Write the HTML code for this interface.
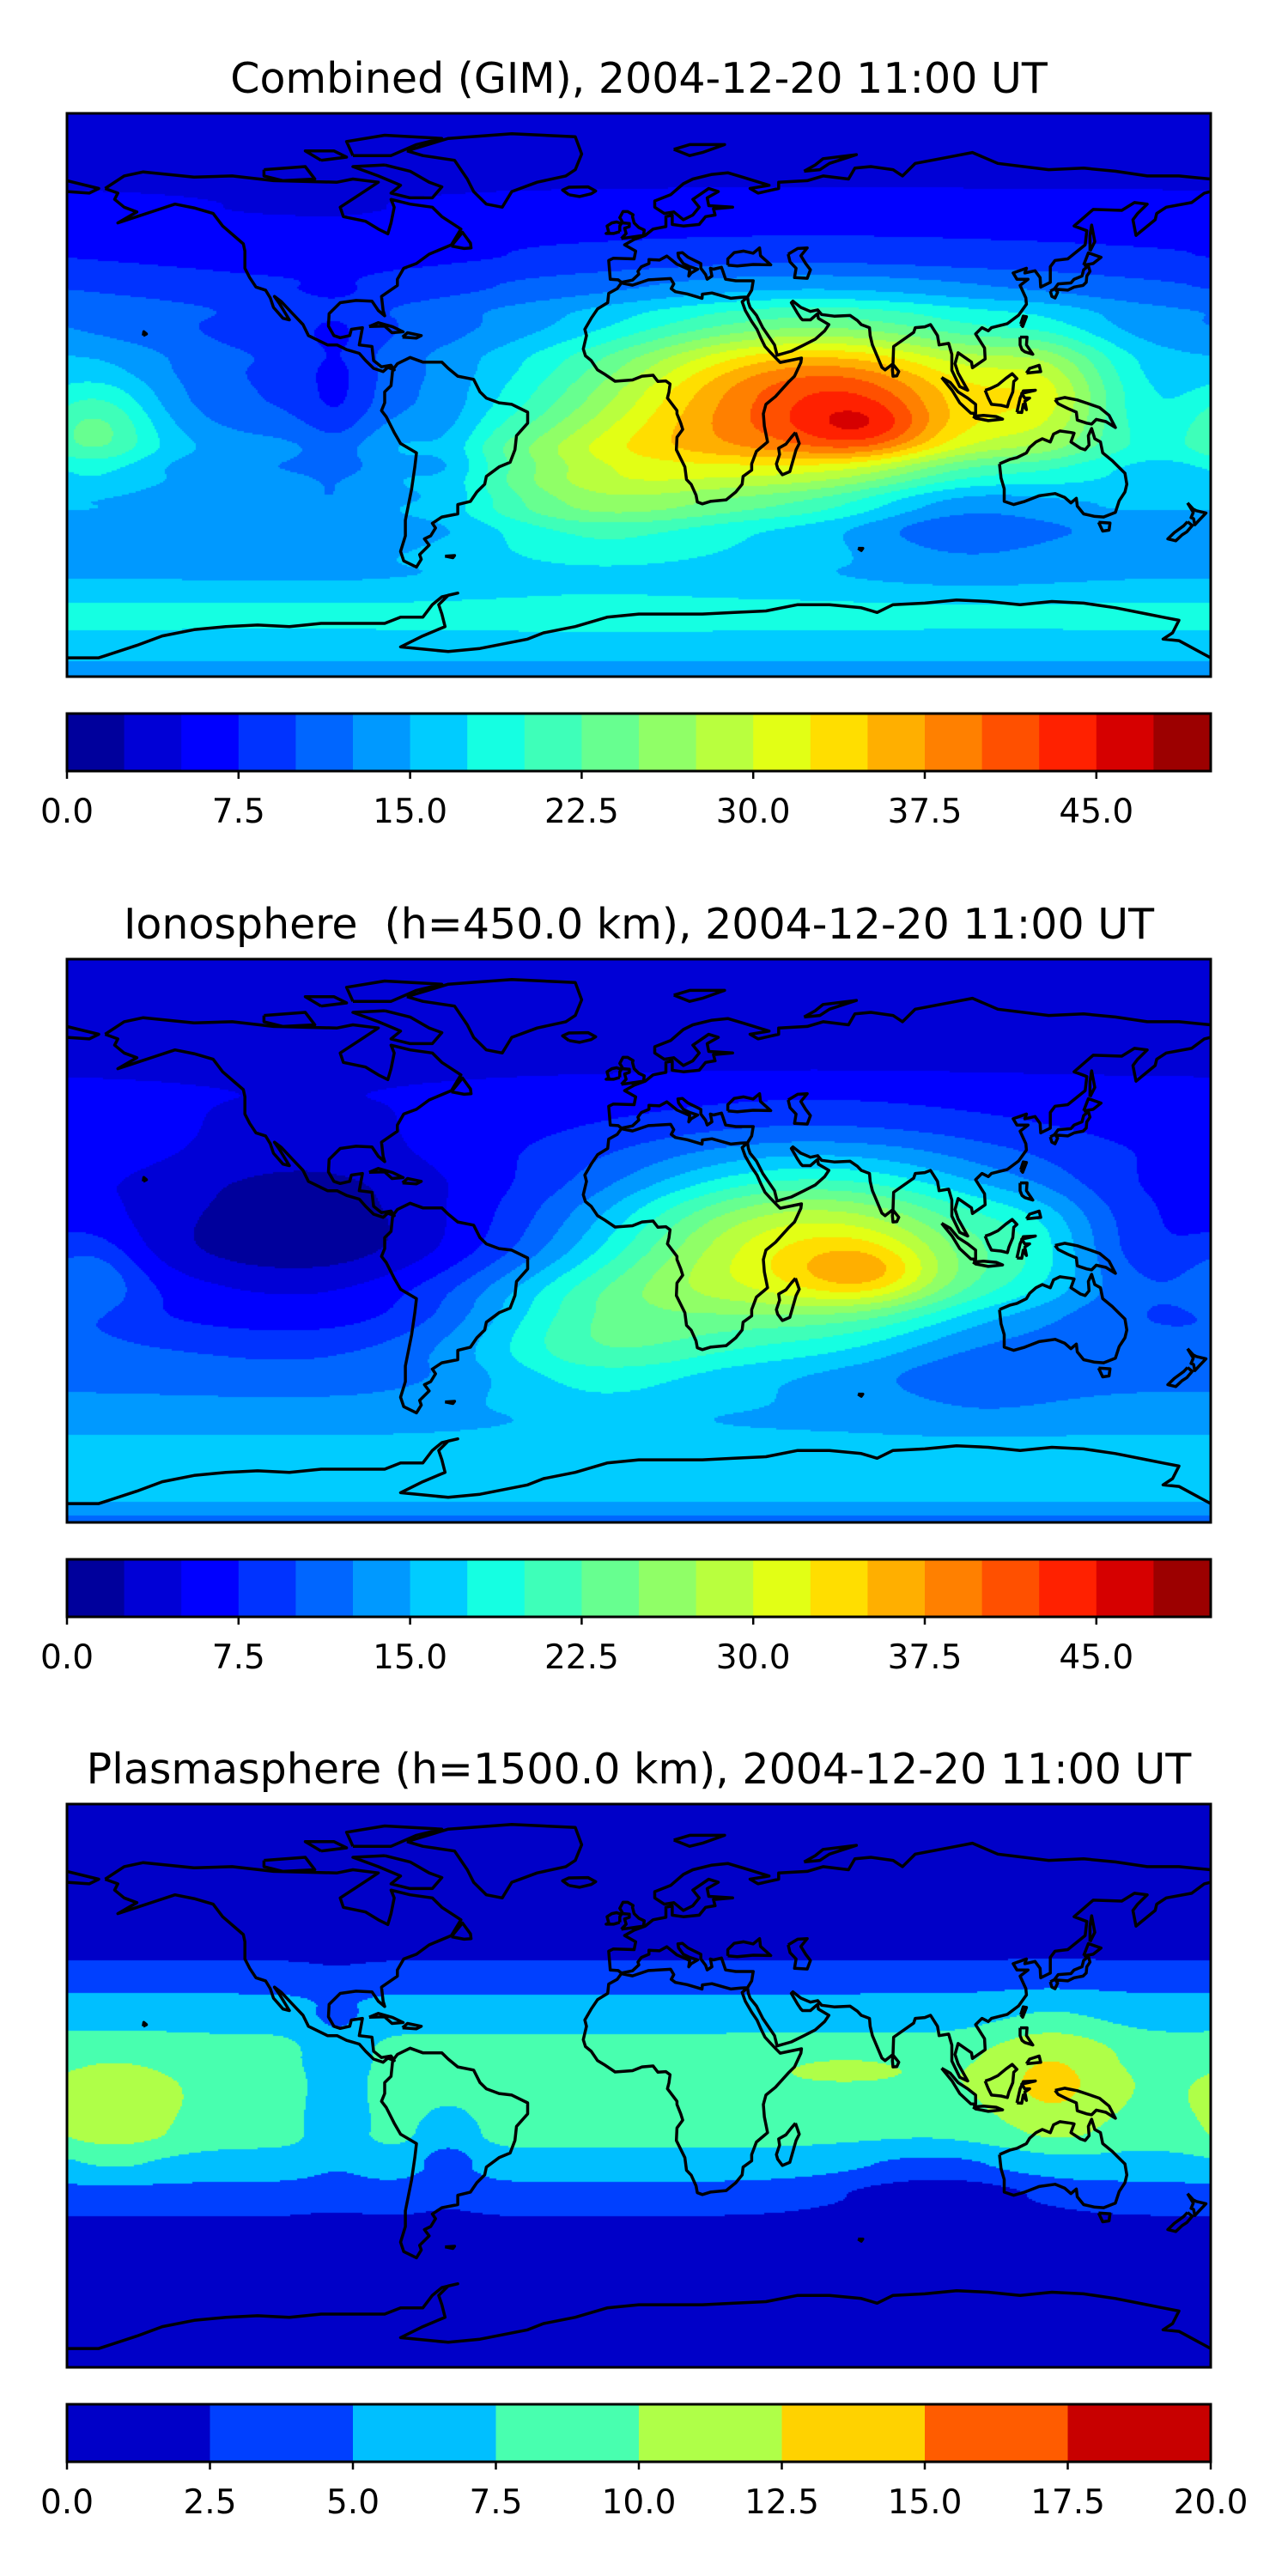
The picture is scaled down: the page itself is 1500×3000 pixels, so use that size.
<!DOCTYPE html>
<html><head><meta charset="utf-8"><style>
html,body{margin:0;padding:0;background:#fff;}
#root{position:relative;width:1500px;height:3000px;overflow:hidden;background:#fff;font-family:"DejaVu Sans","Liberation Sans",sans-serif;}
canvas{position:absolute;}
svg{position:absolute;left:0;top:0;overflow:visible;}
</style></head><body>
<div id="root"></div>
<script>
// ---------- data ----------
const ionoBaseLat = [90, 80, 60, 45, 30, 15, 0, -20, -40, -55, -70, -80, -90];
const ionoBaseVal = [3, 3, 4, 6, 6.5, 5.5, 5, 8, 11, 13.5, 17, 16, 12];
const ionoBlobLon = [55, 72, -15, 125, -105, 105, -172];
const ionoBlobLat = [-3, -10, -30, 0, 5, -40, -10];
const ionoBlobAmp = [27, 6, 9, 4, -4.5, -3, 5];
const ionoBlobSx = [50, 15, 30, 15, 35, 25, 12];
const ionoBlobSy = [20, 7, 15, 12, 25, 12, 10];

const plasBaseLat = [90, 80, 45, 35, 25, 10, 0, -15, -25, -35, -45, -60, -90];
const plasBaseVal = [1, 1, 1.5, 3.5, 6, 8.5, 9, 8.5, 6.5, 4, 2, 1, 1];
const plasBlobLon = [-165, 130, 65, -95, -60, 95];
const plasBlobLat = [-8, 2, 6, 0, -20, -35];
const plasBlobAmp = [3.2, 4.2, 1.6, -3, -2.5, -3];
const plasBlobSx = [15, 15, 25, 8, 8, 25];
const plasBlobSy = [12, 15, 5, 20, 12, 12];

const levels1 = [0,2.5,5,7.5,10,12.5,15,17.5,20,22.5,25,27.5,30,32.5,35,37.5,40,42.5,45,47.5,50];
const levels3 = [0,2.5,5,7.5,10,12.5,15,17.5,20];
const ticks1 = ["0.0","7.5","15.0","22.5","30.0","37.5","45.0"];
const tickVals1 = [0,7.5,15,22.5,30,37.5,45];
const ticks3 = ["0.0","2.5","5.0","7.5","10.0","12.5","15.0","17.5","20.0"];
const tickVals3 = [0,2.5,5,7.5,10,12.5,15,17.5,20];
const titles = ["Combined (GIM), 2004-12-20 11:00 UT","Ionosphere\u00a0\u00a0(h=450.0 km), 2004-12-20 11:00 UT","Plasmasphere (h=1500.0 km), 2004-12-20 11:00 UT"];

const coasts = [
[[180,65],[178,64.5],[174,61.5],[166,60],[163,58],[162.5,56],[156.5,51],[155.5,56],[157,58],[160,61],[156,61.5],[152,59],[143,59.3],[137,54],[141,52.5],[140.5,48],[135,43.5],[131,43],[129.5,41],[129.5,36],[126.5,34.5],[126.3,37.5],[124.7,39.7],[121.5,39],[122,40.5],[117.8,39],[119,37],[122.5,37],[120,35],[121.8,31],[122,29],[119.5,25.5],[116,22.8],[111,21.5],[110,20.5],[108,21.5],[106,19.5],[108.8,15],[109,11.5],[105,8.7],[104.7,10.5],[100.5,13.5],[99.5,10],[100.5,7],[103.5,1.5],[101,2.7],[98.5,7.9],[98.5,13],[97.5,16.5],[94.5,16],[94,19],[91.8,22.5],[90,21.8],[87,21.5],[86.5,20],[80.2,15.5],[80,10],[77.5,8],[76.5,8.8],[73.5,16],[72.8,19],[72.6,21.5],[70,22.5],[68.8,23.8],[66.5,25.4],[61.5,25.2],[57.5,25.7],[56.3,27.2],[54,26.7],[51,28],[48.5,30],[48,29.5],[50,26],[51,24.5],[51.5,24],[54,24],[56.3,26],[56.5,24.5],[59.8,22.5],[58.5,20.5],[55.5,17.8],[52,16],[48,14],[43.5,12.7],[42.7,16],[39,21.5],[37,25.5],[35,28],[34.5,29.5],[34.2,31.3],[35.5,33.5],[36,36.5],[30.5,36.5],[27.3,37],[26.3,40],[26,40.8],[23.5,40.2],[22.5,40.5],[23,38],[21.5,37],[21,38.5],[19.5,40.5],[19.5,42],[15.5,44],[13.7,45.5],[12.3,45.3],[12.5,44],[14,42],[16,41],[18.5,40.2],[16.5,39],[15.7,38],[16,40],[14.5,40.7],[12,41.8],[10.5,43],[8.8,44.4],[6.5,43.1],[3.2,43.3],[3.2,42],[0.8,41],[-0.3,39.5],[0,38.6],[-2,36.7],[-5.5,36],[-6.5,36.8],[-9,37],[-9.5,43],[-8,43.7],[-1.5,43.5],[-1,46],[-4.5,48],[-1.5,49.7],[2,51],[4.5,53],[8.5,53.8],[8.5,57],[10.5,57.5],[10.5,54.5],[14,54],[19,54.5],[21,57],[24,57.5],[23.5,59.5],[29.5,60],[22,60.5],[21.5,63],[25,65],[22,66],[17,62.5],[19,60],[17,57.5],[14,56],[11,58.5],[8,58],[5,60],[5,62],[10,64],[14,67.5],[17,69],[23,70.5],[28,71],[33,69.5],[41,67],[35,66],[37.5,64.5],[44,66],[44,68],[53,68.5],[58,70],[66,69],[68,72.5],[73,73],[80,72],[83,70],[87,74],[100,76.5],[105,77.5],[113,74],[129,72],[140,72.5],[150,71.5],[160,70],[170,70],[180,69]],
[[-180,65],[-173,64.5],[-170,66],[-180,68.5]],
[[-168,66],[-162,70],[-156,71.3],[-140,69.6],[-128,70],[-115,68.5],[-95,68],[-90,69],[-82,68],[-88,64],[-94,60],[-93,57],[-86,55.5],[-82,53],[-79,51.5],[-78,55],[-77,60],[-78,62.5],[-72,61],[-65,60],[-62,57],[-56,53],[-59,48],[-66,45],[-70,42],[-74,40.5],[-76,37],[-76,35],[-81,31.5],[-80.5,27],[-80,25.3],[-82,27],[-84,30],[-89,30.2],[-94,29.5],[-97.5,26],[-97.7,22],[-96,19],[-94,18.3],[-91,19],[-90.5,21],[-87,21.5],[-88,16],[-84,15.5],[-83.5,11],[-81,9],[-78,9.5],[-77,8],[-79,8.8],[-80.5,7.5],[-83.5,8.5],[-86,11],[-88,13.3],[-92,14.5],[-95,16],[-98,16],[-104,19],[-105.7,22.5],[-109,26],[-112.5,29.8],[-114.7,31.5],[-113,29],[-110,24],[-112,24.5],[-115,28],[-116,31],[-117.5,33.5],[-120.5,34.5],[-122.5,37.5],[-124,40.5],[-124,46],[-124.5,48.3],[-127,50.5],[-131,54],[-134,58],[-140,59.8],[-146,61],[-152,59],[-158,57],[-164,55],[-158,58.5],[-162,60],[-165,62.5],[-164,64.5],[-168,66]],
[[-73,78],[-60,82],[-40,83.5],[-20,82.5],[-18,77],[-20,72],[-23,70],[-32,68],[-40,65],[-43,60],[-48,61],[-52,65],[-54,69],[-58,75],[-68,76.5],[-73,78]],
[[-80,73.5],[-72,71.5],[-66,68],[-62,66.5],[-65,63],[-72,63],[-78,64.5],[-75,67],[-82,70],[-90,73],[-80,73.5]],
[[-118,72],[-105,73],[-102,69],[-112,68.5],[-118,70],[-118,72]],
[[-90,76.5],[-78,76.5],[-70,80],[-62,82],[-80,83],[-92,81],[-90,76.5]],
[[-100,75],[-92,76],[-96,78],[-105,78],[-100,75]],
[[-77.5,8],[-76,10],[-72,12],[-68,10.5],[-62,10.5],[-60,8.5],[-57,6],[-52,5],[-50,1],[-48,-1],[-44,-2.5],[-40,-3],[-35,-5.5],[-35,-9],[-38.5,-13],[-39,-17.5],[-40.5,-21.5],[-44,-23],[-48,-26],[-48.5,-28.5],[-51,-31],[-53,-34],[-57,-35],[-57,-38],[-62,-39],[-65,-41],[-64,-42.5],[-65.5,-45],[-67.5,-46],[-66,-48],[-69,-51],[-68.5,-52.5],[-70,-55],[-74,-53],[-75,-50],[-73.5,-45],[-73.5,-40],[-71.5,-30],[-70.5,-23],[-70,-18.5],[-75,-15.5],[-77,-12],[-79.5,-7],[-81,-5],[-80,-2.5],[-80,1],[-78,3],[-77.5,8]],
[[-5.5,35.8],[-2,35.1],[3,36.8],[10,37.2],[11,35.5],[10.2,34],[11.5,33],[15.2,32.3],[19.9,30.9],[20,32.2],[23,32.6],[29,30.9],[32,31.2],[34.2,31.3],[32.5,29.8],[33.5,27],[35.5,23.5],[37.2,21],[38.5,18],[39.7,15.5],[41.5,13.5],[43.3,11.6],[44.5,10.4],[51.2,11.8],[51,10.4],[49,6],[47,4],[43,-0.5],[40,-3],[39.2,-6],[39.5,-10],[40.5,-15],[37,-18],[35.5,-22],[35.5,-24],[32.8,-26],[32.5,-28.5],[30.5,-31],[27.5,-33.5],[22.5,-34],[20,-34.8],[18.4,-34.2],[18,-32],[16.5,-28.6],[15,-27],[14.5,-23],[11.8,-17.5],[12,-13.5],[13.8,-11],[13.2,-9],[12,-6],[12,-5],[9,-1],[9.5,1],[9.8,3.5],[8.5,4.5],[6,4.3],[4.5,6.3],[1,6],[-2,4.8],[-7.5,4.4],[-11,6.8],[-13,8],[-15,11],[-16.8,12.5],[-17.5,14.7],[-16.5,19],[-17,21],[-15,24.5],[-13,27.5],[-9.8,29.5],[-9.5,32.5],[-6.8,34],[-5.5,35.8]],
[[49.3,-12],[50.5,-15.5],[49.5,-17.5],[47.5,-24.5],[45.2,-25.5],[43.7,-23.5],[43.3,-22],[44.3,-19],[44,-17],[46.3,-15.7],[48,-13.5],[49.3,-12]],
[[113.5,-22],[114,-26.5],[115,-30],[115,-34],[118,-35],[121.5,-34],[124,-33],[126,-32.2],[131,-31.5],[134,-32.7],[136,-34.5],[137.7,-33],[138,-35.5],[140,-38],[143.5,-38.8],[146.3,-39],[150,-37.5],[151.2,-33.8],[153,-31],[153.6,-28.5],[153,-25],[150.5,-22.5],[149,-21],[146,-18.5],[145.3,-15],[143.5,-14],[142.5,-10.7],[141.5,-13],[141.7,-16],[140.5,-17.5],[139,-17],[136,-15],[137,-12.2],[136,-12],[132.5,-11.5],[130.5,-12.5],[129.5,-15],[127,-14],[125,-15],[123,-16.8],[122,-18.5],[119,-20],[116.7,-20.6],[114,-21.8],[113.5,-22]],
[[144.7,-40.7],[148.3,-40.9],[148,-43.2],[146,-43.5],[144.7,-40.7]],
[[172.7,-34.5],[174.5,-36.5],[175.5,-37],[178.5,-37.7],[176.8,-39.5],[175,-41.5],[174.6,-39.5],[173.8,-39.2],[174.5,-37.5],[172.7,-34.5]],
[[172.7,-40.5],[174.2,-41.7],[172.5,-43.7],[171,-44.7],[169,-46.6],[166.5,-46],[168.5,-44],[171.5,-41.8],[172.7,-40.5]],
[[-180,-84],[-170,-84],[-158,-80],[-150,-77],[-140,-75],[-130,-74],[-120,-73.5],[-110,-74],[-100,-73],[-90,-73],[-80,-73],[-75,-71],[-68,-71],[-65,-67],[-62,-64.5],[-57,-63.3],[-60,-64],[-63,-67],[-62,-70],[-61,-74],[-68,-77],[-75,-80.5],[-60,-82],[-50,-81],[-35,-78],[-30,-76],[-20,-74],[-10,-71],[0,-70],[10,-70],[20,-70],[30,-69.5],[40,-69],[50,-67],[60,-67],[70,-68],[75,-69.5],[80,-67],[90,-66.5],[100,-65.5],[110,-66],[120,-67],[130,-66],[140,-66.5],[150,-68],[160,-70],[165,-71],[170,-72],[168,-76],[165,-78],[170,-78.5],[180,-84]],
[[130.9,34],[132,35.5],[136,35.8],[137,37],[139.5,38],[140,40],[141.5,41.3],[142,39.5],[141,38],[140.8,36],[139.8,35],[137,34.5],[135,33.5],[131,33.8],[130.9,34]],
[[129.5,33.2],[131,34],[131.8,32.8],[131,31],[130,31.5],[129.5,33.2]],
[[140,41.5],[141.5,45.4],[145.5,44],[143,42],[140,41.5]],
[[142,46],[143.5,49],[142.5,54.3],[142,51],[142,46]],
[[120.2,22.7],[121,25.2],[122,25],[120.8,21.9],[120.2,22.7]],
[[120,18.5],[122.2,18.5],[122,16],[124,13],[121.5,13.8],[120.6,14.5],[120,16],[120,18.5]],
[[122,7],[126.5,7.5],[126,9.5],[123,8.5],[122,7]],
[[109,1.5],[110.5,2],[113,3.2],[115.5,5.3],[117.5,6.8],[119,5.2],[118,4.3],[117.7,1],[116.5,-2],[116,-3.8],[114,-3.3],[111,-3],[110,-1],[109,1.5]],
[[95.3,5.6],[98,4],[100.5,1],[103.5,-1],[106,-3],[106,-5.9],[104.5,-5.8],[101,-2.5],[98.6,1.5],[95.3,5.6]],
[[105.2,-6.8],[108.5,-6.5],[112.5,-6.9],[114.5,-7.7],[110,-8.2],[106,-7.4],[105.2,-6.8]],
[[119,-5.5],[120,-1],[121,1.3],[124.8,1.5],[120.5,0.5],[121.5,-1],[123,-1],[121.5,-2],[122,-4.7],[121,-3],[120.5,-5.6],[119,-5.5]],
[[131,-1.5],[134,-0.8],[138,-1.6],[141,-2.6],[145,-4],[148,-6.5],[150,-10.4],[147,-8.5],[144,-7.8],[142.5,-9.3],[141,-9],[138,-8],[137.7,-5.5],[135,-4.3],[132,-2.8],[131,-1.5]],
[[80,9.8],[81.8,7.5],[81.2,6.1],[80,6],[79.8,8],[80,9.8]],
[[-5.5,50],[1.5,51],[1.7,52.7],[0,53.5],[-1.5,55],[-2,57],[-1.8,57.6],[-3.5,58.6],[-5,58.6],[-6,56.7],[-5,55],[-3,54.8],[-3,53.8],[-4.5,53.3],[-4,51.6],[-5.5,50]],
[[-6,52.2],[-6,54],[-5.5,54.8],[-7,55.3],[-8.5,55],[-10,54],[-9.5,52],[-10.3,51.6],[-8,51.6],[-6,52.2]],
[[-22,64],[-24,65.5],[-22,66.4],[-16,66.5],[-13.6,65.2],[-15,64.3],[-18.7,63.4],[-22,64]],
[[-84.9,21.9],[-82,23.1],[-77.5,21.8],[-74.2,20.2],[-77.7,19.9],[-80,22],[-84.9,21.9]],
[[-74.4,18.5],[-72.8,19.9],[-68.5,19],[-70,18.2],[-74.4,18.5]],
[[47,45],[50,46.8],[53,47],[51,44.5],[52.5,42],[54,40],[53,37.3],[49,37.5],[49.5,40.5],[47.6,42.5],[47,45]],
[[28,41.5],[28,43.5],[30,45.5],[33,46],[36,45.3],[38,47],[38.3,44.5],[41.5,41.6],[36,41.7],[31,41.2],[28,41.5]],
[[52,71.5],[55.5,73.5],[58,75.5],[68.5,76.8],[60,74],[57,72],[52,71.5]],
[[11,78.5],[16,80],[27,80],[20,77.5],[16,76.5],[11,78.5]],
[[-156,19],[-155,19.5],[-155.8,20.2],[-156,19]],
[[-61,-51.5],[-58,-51.3],[-58.5,-52],[-61,-51.5]],
[[69,-49],[70.5,-49],[70,-49.7],[69,-49]],
[[-59,47.6],[-55.5,52],[-53,48.5],[-52.8,47],[-55,46.8],[-59,47.6]]
];

// ---------- layout ----------
const AX_L = 78, AX_W = 1332, AX_H = 656;
const PANEL_TOPS = [132, 1117, 2101];
const CB_OFF = 699, CB_H = 67;

function jetCh(pts, x){
  for(let i=0;i<pts.length-1;i++){
    const a=pts[i], b=pts[i+1];
    if(x>=a[0] && x<=b[0]) return a[1]+(b[1]-a[1])*(x-a[0])/(b[0]-a[0]);
  }
  return pts[pts.length-1][1];
}
function jet(x){
  const r=jetCh([[0,0],[0.35,0],[0.66,1],[0.89,1],[1,0.5]],x);
  const g=jetCh([[0,0],[0.125,0],[0.375,1],[0.64,1],[0.91,0],[1,0]],x);
  const b=jetCh([[0,0.5],[0.11,1],[0.34,1],[0.65,0],[1,0]],x);
  return [Math.round(r*255),Math.round(g*255),Math.round(b*255)];
}
function palette(n){ const p=[]; for(let i=0;i<n;i++) p.push(jet((i+0.5)/n)); return p; }
function rgb(c){ return 'rgb('+c[0]+','+c[1]+','+c[2]+')'; }

function baseAt(lats, vals, lat){
  for(let i=0;i<lats.length-1;i++){
    if(lat<=lats[i] && lat>=lats[i+1]){
      const t=(lat-lats[i])/(lats[i+1]-lats[i]);
      const s=(1-Math.cos(Math.PI*t))/2;
      return vals[i]+(vals[i+1]-vals[i])*s;
    }
  }
  return vals[vals.length-1];
}
function blobs(lon, lat, L, A, M, SX, SY){
  let v=0;
  for(let i=0;i<L.length;i++){
    let d=lon-L[i]; if(d>180)d-=360; if(d<-180)d+=360;
    const e=lat-A[i];
    v+=M[i]*Math.exp(-(d*d)/(2*SX[i]*SX[i])-(e*e)/(2*SY[i]*SY[i]));
  }
  return v;
}
function iono(lon,lat){ return baseAt(ionoBaseLat,ionoBaseVal,lat)+blobs(lon,lat,ionoBlobLon,ionoBlobLat,ionoBlobAmp,ionoBlobSx,ionoBlobSy); }
function plas(lon,lat){ return baseAt(plasBaseLat,plasBaseVal,lat)+blobs(lon,lat,plasBlobLon,plasBlobLat,plasBlobAmp,plasBlobSx,plasBlobSy); }
const fields=[(a,b)=>iono(a,b)+plas(a,b), iono, plas];

const root=document.getElementById('root');
const NS='http://www.w3.org/2000/svg';
function sv(tag, attrs, parent){ const e=document.createElementNS(NS,tag); for(const k in attrs) e.setAttribute(k,attrs[k]); if(parent) parent.appendChild(e); return e; }

const svg=sv('svg',{width:1500,height:3000,viewBox:'0 0 1500 3000'},null);



for(let p=0;p<3;p++){
  const T=PANEL_TOPS[p];
  const lev = p===2 ? levels3 : levels1;
  const nL = lev.length-1;
  const pal = palette(nL);
  const vmin=lev[0], vmax=lev[nL];
  const xOfV = v => AX_L + (v-vmin)/(vmax-vmin)*AX_W;

  const cv=document.createElement('canvas');
  cv.width=AX_W; cv.height=AX_H;
  cv.style.left=AX_L+'px'; cv.style.top=T+'px';
  
  
  root.appendChild(cv);
  const ctx=cv.getContext('2d');
  const img=ctx.createImageData(AX_W,AX_H);
  const f=fields[p];
  const step=2;
  for(let y=0;y<AX_H;y+=step){
    const lat=90-(y+step/2)/AX_H*180;
    for(let x=0;x<AX_W;x+=step){
      const lon=-180+(x+step/2)/AX_W*360;
      let k=Math.floor((f(lon,lat)-vmin)/(vmax-vmin)*nL);
      if(k<0)k=0; if(k>nL-1)k=nL-1;
      const c=pal[k];
      for(let dy=0;dy<step&&y+dy<AX_H;dy++)for(let dx=0;dx<step&&x+dx<AX_W;dx++){
        const o=((y+dy)*AX_W+x+dx)*4;
        img.data[o]=c[0];img.data[o+1]=c[1];img.data[o+2]=c[2];img.data[o+3]=255;
      }
    }
  }
  ctx.putImageData(img,0,0);

  const t=sv('text',{x:AX_L+AX_W/2,y:T-24,'text-anchor':'middle','font-size':49,'font-family':'DejaVu Sans, Liberation Sans, sans-serif',fill:'#000'},svg);
  t.textContent=titles[p];
  
  

  const cp=sv('clipPath',{id:'clip'+p},svg);
  sv('rect',{x:AX_L,y:T,width:AX_W,height:AX_H},cp);
  const g=sv('g',{'clip-path':'url(#clip'+p+')'},svg);
  
  
  let d='';
  coasts.forEach(line=>{
    line.forEach((pt,i)=>{
      const x=AX_L+(pt[0]+180)/360*AX_W, y=T+(90-pt[1])/180*AX_H;
      d+=(i?'L':'M')+x.toFixed(1)+' '+y.toFixed(1);
    });
  });
  sv('path',{d:d,fill:'none',stroke:'#000','stroke-width':3.5,'stroke-linejoin':'round'},g);
  const fr=sv('rect',{x:AX_L,y:T,width:AX_W,height:AX_H,fill:'none',stroke:'#000','stroke-width':3},svg);
  
  

  const cy=T+CB_OFF;
  const cbg=sv('g',{},svg);
  
  
  for(let i=0;i<nL;i++){
    const x0=xOfV(lev[i]), x1=xOfV(lev[i+1]);
    const r=sv('rect',{x:x0,y:cy,width:x1-x0+0.6,height:CB_H,fill:rgb(pal[i])},cbg);
    
    
  }
  sv('rect',{x:AX_L,y:cy,width:AX_W,height:CB_H,fill:'none',stroke:'#000','stroke-width':3},cbg);
  const tv = p===2 ? tickVals3 : tickVals1;
  const tl = p===2 ? ticks3 : ticks1;
  for(let i=0;i<tv.length;i++){
    const x=xOfV(tv[i]);
    sv('line',{x1:x,x2:x,y1:cy+CB_H,y2:cy+CB_H+9,stroke:'#000','stroke-width':2.5},cbg);
    const lt=sv('text',{x:x,y:cy+CB_H+60,'text-anchor':'middle','font-size':39,'font-family':'DejaVu Sans, Liberation Sans, sans-serif',fill:'#000'},cbg);
    lt.textContent=tl[i];
    
    
  }
}
root.appendChild(svg);
</script>
</body></html>
